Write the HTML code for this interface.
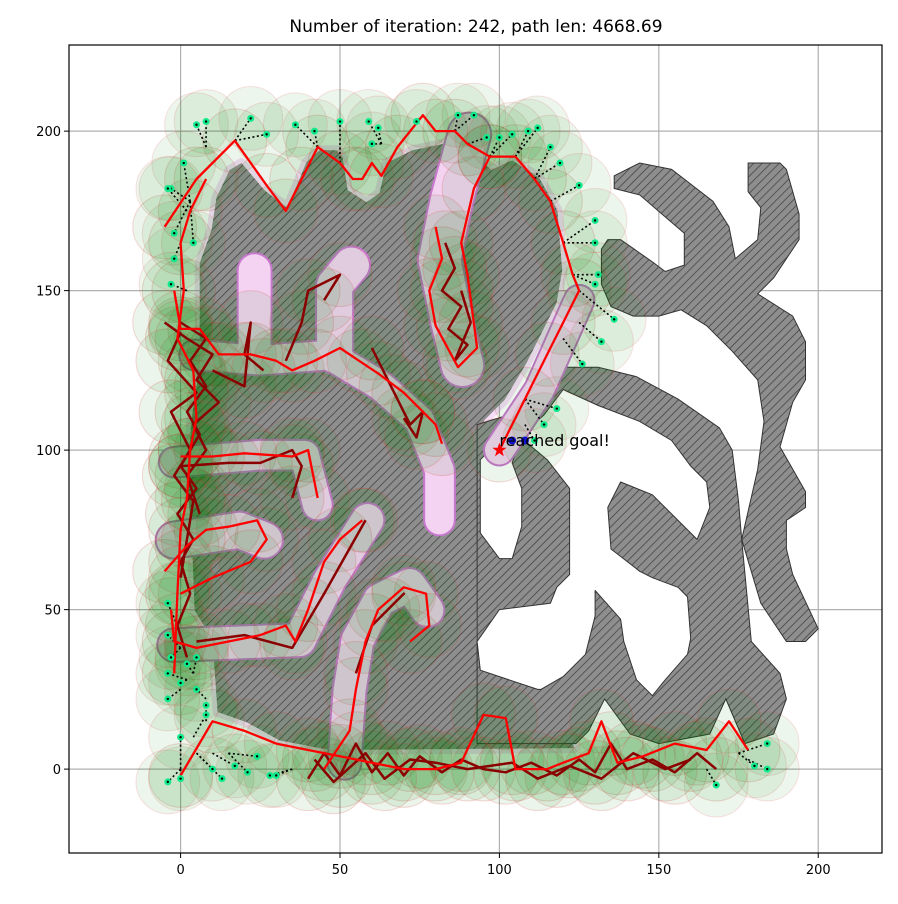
<!DOCTYPE html>
<html><head><meta charset="utf-8"><style>
html,body{margin:0;padding:0;background:#fff;}
svg{display:block;font-family:"DejaVu Sans","Liberation Sans",sans-serif;}
</style></head><body>
<svg id="chart" width="898" height="904" viewBox="0 0 898 904" xmlns="http://www.w3.org/2000/svg">
<defs>
<pattern id="hatch" patternUnits="userSpaceOnUse" width="6" height="6" patternTransform="rotate(45)">
<rect width="6" height="6" fill="#8e8e8e"/><line x1="0" y1="0" x2="0" y2="6" stroke="#404040" stroke-width="1.5"/>
</pattern>
<clipPath id="plotclip"><rect x="69" y="45" width="813" height="808"/></clipPath>
</defs>
<rect x="0" y="0" width="898" height="904" fill="#fff"/>
<text x="476" y="32" text-anchor="middle" font-size="17" fill="#000">Number of iteration: 242, path len: 4668.69</text>
<g id="grid"></g>
<g id="plot" clip-path="url(#plotclip)"></g>
<rect x="69" y="45" width="813" height="808" fill="none" stroke="#000" stroke-width="1.2"/>
<g id="ticks"></g>
</svg>
<script>
// ---- data (data units) ----
const xTicks = [0, 50, 100, 150, 200];
const yTicks = [0, 50, 100, 150, 200];
const xLim = [-35, 220];
const yLim = [-26.3, 227];

const obstacleL = [[15.4,187.8],[19.1,190],[26.3,181.5],[33.5,175.9],[39.5,190.3],[43.6,194],[48.9,194],[50.8,191.8],[52.4,181.5],[58.3,177.7],[62.4,180.6],[64.6,190],[72.7,194],[83.4,196.2],[90.6,194],[97.5,187.8],[104,190.9],[112.5,185.3],[118.2,175.2],[119.7,156.4],[117.9,146.1],[108.5,127.3],[101.6,115.7],[95.3,109.4],[93.1,101.6],[92.8,40.4],[93.7,31],[111.6,24.8],[118.8,21.6],[123.5,6.6],[46.7,6],[31,9],[20.7,14.7],[11.6,17.9],[10,40.4],[4.4,49.8],[3.8,65.5],[2.2,90.6],[3.4,109.4],[5.3,121.9],[6,134.5],[6,158.6],[9.7,169],[11.3,179.3]];
const obstacleA = [[136,186],[144,190],[154,188],[167,178],[172,170],[174,160],[181,166],[182,176],[178,181],[178,190],[188,190],[190,188],[194,174],[194,166],[186,154],[181,149],[192,142],[196,134],[196,122],[192,115],[188,101],[196,87],[196,82],[190,78],[190,69],[192,61],[200,44],[196,40],[190,40],[182,52],[176,72],[181,94],[183,109],[181,122],[173,131],[165,139],[157,144],[150,142],[142,142],[135,145],[132,152],[132,163],[134,166],[138,166],[148,159],[152,156],[158,158],[158,168],[151,174],[144,180],[136,182]];
const obstacleR = [[121,126],[131,126],[143,123],[156,116],[169,107],[173,100],[175,84],[176,72],[179,40],[188,30],[190,22],[186,11],[177,8],[171,22],[166,11],[150,8],[141,11],[133,22],[128,12],[124,8],[93,8],[93,108],[106,112]];
const holeBig = [[120,119],[131,114],[144,109],[154,103],[160,95],[165,90],[166,82],[162,72],[148,86],[138,90],[134,82],[135,69],[144,62],[148,60],[156,57],[159,54],[160,41],[159,36],[152,28],[148,23],[143,28],[139,40],[138,47],[130,56],[130,48],[127,36],[120,29],[113,25],[112,25],[100,29],[94,31],[93,40],[100,50],[116,52],[118,57],[122,61],[122,88],[115,97],[109,102],[108,106],[114,111]];
const holeBubble = [[94,97],[94,74],[100,66],[104,66],[107,76],[107,88],[104,96],[106,102],[100,103]];

const corridorC1 = [[4.4,129.8],[24.8,128.2],[46.7,129.8],[62.4,120.4],[74.9,109.4],[81.2,93.7],[81.2,78.1]];
const corridorS1 = [[23.2,128.8],[23.2,156.4]];
const corridorS2 = [[48.3,129.8],[48.3,151.7],[53.6,158]];
const corridorTop = [[90.6,199],[85,178.4],[81.2,159.6],[85,140.8],[88.4,126.6]];
const corridorC2 = [[-2,96.2],[24.8,98.4],[38.9,98.4],[42.9,82.8]];
const corridorC3 = [[-2,71.8],[18.5,74.9],[26.3,71.8]];
const corridorC4 = [[-2,38.9],[21.6,39.8],[37.3,40.4],[46.7,59.2],[58.6,78.1]];
const corridorC5 = [[51.4,2],[53,24.8],[55.5,40.4],[62.4,53],[71.8,57.7],[77.4,49.8]];
const corridorGoal = [[125,147],[112.5,118.8],[100,100]];
const corridorWidths = [9, 10, 11, 13, 9, 11, 10, 10, 9];

const redTop = [[-5,170],[5,185],[17,197],[27,183],[33,175],[38,185],[43,195],[50,190],[54,185],[57,185],[60,190],[63,186],[68,195],[76,205],[80,200],[86,200],[90,196],[97,192],[105,192],[111,185],[116,178],[120,165],[123,155],[125,150],[120,140],[115,130],[108,116],[100,100]];
const redCorr = [[97,192],[92,182],[88,165],[90,155],[93,132],[87,126],[80,139],[78,150],[82,160],[80,170]];
const redC1 = [[-2,150],[0,138],[6,138],[12,130],[22,130],[30,128],[35,125],[42,128],[50,132],[56,128],[62,124],[70,118],[76,112],[80,108],[82,102]];
const redC2 = [[0,98],[10,98],[20,99],[35,98],[40,100],[43,85]];
const redC3 = [[-5,62],[2,70],[8,75],[15,76],[24,78],[27,72],[22,65],[10,60],[0,55]];
const redC4 = [[-3,50],[-2,40],[5,38],[15,40],[25,42],[33,45],[36,40],[40,50],[45,65],[50,72],[57,78]];
const redC5 = [[45,0],[53,12],[55,25],[58,40],[62,50],[70,57],[77,55],[78,45],[72,40]];
const redBottom = [[0,-2],[10,15],[20,12],[30,8],[40,6],[50,4],[60,2],[70,0],[80,0],[88,2],[95,17],[102,16],[105,0],[115,0],[120,2],[128,5],[132,15],[137,2],[145,4],[155,8],[165,6],[172,15],[178,6]];
const redLeft = [[-2,30],[-1,55],[0,75],[2,85],[3,100],[5,110],[4,125],[-1,135],[1,150],[0,165],[3,175],[8,185]];

const tree1 = [[0,140],[8,135],[3,128],[8,120],[2,112],[6,105],[0,95],[5,88],[-1,80],[4,72],[0,65],[3,55],[-1,45],[2,35]];
const tree2 = [[-5,140],[2,135],[10,130],[5,122],[12,115],[4,108],[8,100],[2,92],[6,80]];
const tree3 = [[0,137],[-4,128],[5,118],[-3,112],[3,100],[-2,92],[4,84],[0,60]];
const tree4 = [[40,-3],[45,5],[50,-2],[55,8],[60,-1],[65,5],[70,-2],[75,4],[82,-1],[88,3],[95,0],[102,-1],[110,2],[118,-2],[125,3],[130,-1],[135,8],[140,0],[148,3],[155,-1],[162,5],[168,0]];
const tree5 = [[42,3],[48,-4],[58,5],[64,-3],[72,3],[80,2],[90,0],[104,2],[112,-3],[122,1],[132,-3],[142,5],[152,0],[160,3]];
const tree6 = [[83,165],[86,157],[82,150],[88,145],[84,138],[90,133],[86,128],[91,140],[88,150]];
const tree7 = [[60,132],[66,120],[72,108],[76,112],[74,104],[70,110]];
const tree8 = [[33,128],[38,140],[40,150],[50,155],[45,147]];
const tree9 = [[0,95],[15,96],[25,96],[35,100],[38,95],[35,85]];
const tree10 = [[5,40],[20,42],[35,38],[45,55],[58,78]];
const tree11 = [[55,30],[60,45],[70,55],[65,50]];
const tree12 = [[10,125],[20,120],[22,140],[20,130],[26,125]];

const leafX = [-3,1,5,8,-2,4,22,27,36,42,50,59,62,60,74,87,92,96,100,104,109,112,116,119,125,130,130,131,130,136,132,126,118,114,111,-4,-2,-3,-4,-4,-3,-4,-4,0,2,5,5,8,8,0,-4,0,10,13,17,21,24,28,30,184,180,184,168];
const leafY = [182,190,202,203,168,165,204,199,202,200,203,203,201,196,203,205,205,198,198,199,200,201,195,190,183,172,165,155,152,141,134,127,113,108,103,182,160,152,52,42,35,30,22,27,33,35,25,20,17,10,-4,-3,0,-3,1,-1,4,-2,-2,8,1,0,-5];
const parentX = [3,3,8,8,3,3,17,17,43,43,50,63,63,63,76,86,86,90,97,97,105,105,111,111,116,120,120,123,123,125,125,120,108,108,108,2,0,2,-1,0,0,2,0,2,4,4,8,8,4,0,0,0,5,5,10,15,15,35,35,175,175,178,165];
const parentY = [178,178,195,195,178,178,197,197,195,195,190,196,196,196,205,200,200,196,192,192,192,192,185,185,178,165,165,155,155,150,140,135,116,116,108,175,165,150,45,38,38,28,25,28,30,30,22,15,10,0,0,0,5,5,5,5,5,0,0,5,5,3,0];

const goalPoint = [100, 100];
const goalLabel = "reached goal!";
const bluePoints = [[104,103],[108,103]];

// ---- scales ----
const PX0 = 69, PX1 = 882, PY0 = 45, PY1 = 853;
function sx(v){ return PX0 + (v - xLim[0]) / (xLim[1] - xLim[0]) * (PX1 - PX0); }
function sy(v){ return PY1 - (v - yLim[0]) / (yLim[1] - yLim[0]) * (PY1 - PY0); }
const unitPx = (PX1 - PX0) / (xLim[1] - xLim[0]);
const NS = "http://www.w3.org/2000/svg";
const plot = document.getElementById('plot');
const grid = document.getElementById('grid');
const ticks = document.getElementById('ticks');
function mk(tag, attrs, parent){ const e = document.createElementNS(NS, tag); for (const k in attrs) e.setAttribute(k, attrs[k]); parent.appendChild(e); return e; }
function pts(arr){ return arr.map(p => sx(p[0]).toFixed(1) + ',' + sy(p[1]).toFixed(1)).join(' '); }

xTicks.forEach(t => {
  const gl = mk('line', {x1: sx(t), x2: sx(t), y1: PY0, y2: PY1, stroke: '#b0b0b0', 'stroke-width': 1.2}, grid);
  
  
  const tk = mk('line', {x1: sx(t), x2: sx(t), y1: PY1, y2: PY1 + 5, stroke: '#000', 'stroke-width': 1}, ticks);
  
  
  const lb = mk('text', {x: sx(t), y: PY1 + 21, 'text-anchor': 'middle', 'font-size': 13}, ticks);
  lb.textContent = t;
  
  
});
yTicks.forEach(t => {
  const gl = mk('line', {x1: PX0, x2: PX1, y1: sy(t), y2: sy(t), stroke: '#b0b0b0', 'stroke-width': 1.2}, grid);
  
  
  const tk = mk('line', {x1: PX0 - 5, x2: PX0, y1: sy(t), y2: sy(t), stroke: '#000', 'stroke-width': 1}, ticks);
  
  
  const lb = mk('text', {x: PX0 - 8, y: sy(t) + 5, 'text-anchor': 'end', 'font-size': 13}, ticks);
  lb.textContent = t;
  
  
});

const infl = mk('polygon', {points: pts(obstacleL), fill: 'none', stroke: 'rgba(225,120,225,0.25)', 'stroke-width': 10, 'stroke-linejoin': 'round'}, plot);


[[obstacleL, 'obstacle-left-maze'], [obstacleR, 'obstacle-bottom-right'], [obstacleA, 'obstacle-upper-right']].forEach(o => {
  const p = mk('polygon', {points: pts(o[0]), fill: 'url(#hatch)', stroke: 'none'}, plot);
  
  
});
[[obstacleR, 'obstacle-bottom-right-edge'], [obstacleA, 'obstacle-upper-right-edge']].forEach(o => {
  const p = mk('polygon', {points: pts(o[0]), fill: 'none', stroke: '#333', 'stroke-width': 1}, plot);
  
  
});
[[holeBig, 'free-space-hole'], [holeBubble, 'free-space-bubble']].forEach(o => {
  const p = mk('polygon', {points: pts(o[0]), fill: '#fff', stroke: '#333', 'stroke-width': 1, 'stroke-linejoin': 'round'}, plot);
  
  
});
const corridors = [corridorC1, corridorS1, corridorS2, corridorTop, corridorC2, corridorC3, corridorC4, corridorC5, corridorGoal];
corridors.forEach((c, i) => {
  const w = corridorWidths[i] * unitPx;
  const o = mk('polyline', {points: pts(c), fill: 'none', stroke: '#c978cf', 'stroke-width': w + 4, 'stroke-linejoin': 'round', 'stroke-linecap': 'round'}, plot);
  
  
});
corridors.forEach((c, i) => {
  const w = corridorWidths[i] * unitPx;
  const o = mk('polyline', {points: pts(c), fill: 'none', stroke: '#f3d3f1', 'stroke-width': w, 'stroke-linejoin': 'round', 'stroke-linecap': 'round'}, plot);
  
  
});

const redPaths = [redTop, redCorr, redC1, redC2, redC3, redC4, redC5, redBottom, redLeft];
const trees = [tree1, tree2, tree3, tree4, tree5, tree6, tree7, tree8, tree9, tree10, tree11, tree12];
const R = 10 * unitPx;
const circG = mk('g', {}, plot);


redPaths.concat(trees).forEach(path => path.forEach(p => {
  const c = mk('circle', {cx: sx(p[0]), cy: sy(p[1]), r: R, fill: 'rgba(0,128,0,0.08)', stroke: 'rgba(220,60,60,0.2)', 'stroke-width': 1}, circG);
  
  
}));
leafX.forEach((x, i) => {
  const c = mk('circle', {cx: sx(x), cy: sy(leafY[i]), r: R, fill: 'rgba(0,128,0,0.07)', stroke: 'rgba(220,60,60,0.15)', 'stroke-width': 1}, circG);
  
  
});

leafX.forEach((x, i) => {
  const l = mk('line', {x1: sx(parentX[i]), y1: sy(parentY[i]), x2: sx(x), y2: sy(leafY[i]), stroke: '#000', 'stroke-width': 1.6, 'stroke-dasharray': '2,2.5'}, plot);
  
  
});
trees.forEach(t => {
  const l = mk('polyline', {points: pts(t), fill: 'none', stroke: '#8b0000', 'stroke-width': 2.5, 'stroke-linejoin': 'round'}, plot);
  
  
});
redPaths.forEach(t => {
  const l = mk('polyline', {points: pts(t), fill: 'none', stroke: '#ff0000', 'stroke-width': 2.3, 'stroke-linejoin': 'round'}, plot);
  
  
});
leafX.forEach((x, i) => {
  const d = mk('circle', {cx: sx(x), cy: sy(leafY[i]), r: 3.5, fill: '#10ea8a'}, plot);
  
  
  const d2 = mk('circle', {cx: sx(x), cy: sy(leafY[i]), r: 1.2, fill: '#000'}, plot);
  
  
});
bluePoints.forEach(p => {
  const d = mk('circle', {cx: sx(p[0]), cy: sy(p[1]), r: 4, fill: '#1010d0'}, plot);
  
  
});
(function(){
  const cx = sx(goalPoint[0]), cy = sy(goalPoint[1]);
  let s = '';
  for (let k = 0; k < 10; k++) {
    const r = k % 2 ? 3 : 7.5, a = -Math.PI / 2 + k * Math.PI / 5;
    s += (cx + r * Math.cos(a)).toFixed(1) + ',' + (cy + r * Math.sin(a)).toFixed(1) + ' ';
  }
  const st = mk('polygon', {points: s, fill: '#ff0000'}, plot);
  
  
  const tx = mk('text', {x: cx, y: cy - 4, 'font-size': 16, fill: '#000'}, plot);
  tx.textContent = goalLabel;
  
  
})();
</script>
</body></html>
